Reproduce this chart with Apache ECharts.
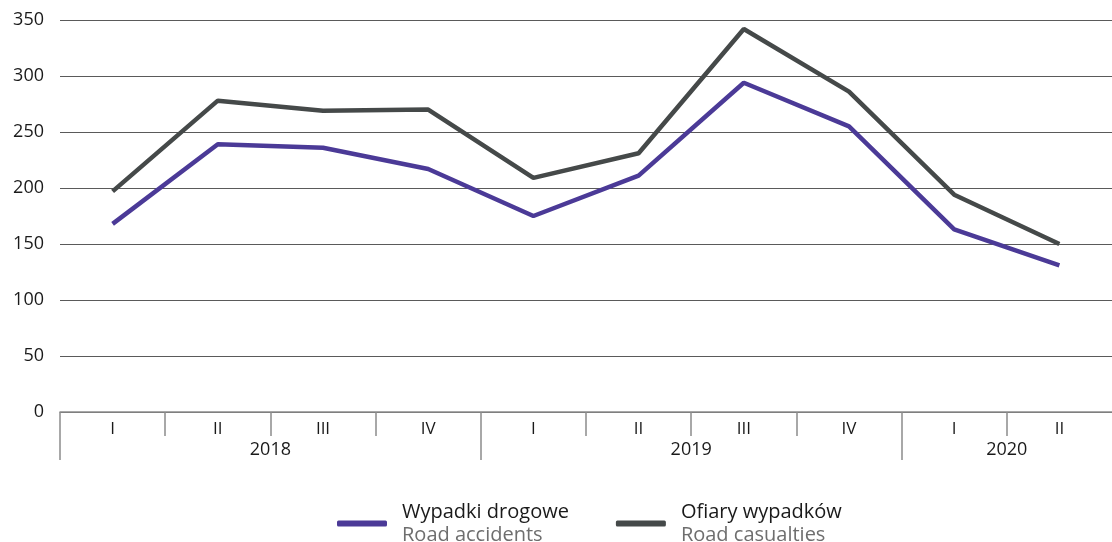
<!DOCTYPE html>
<html>
<head>
<meta charset="utf-8">
<script src="https://cdn.jsdelivr.net/npm/echarts@6/dist/echarts.min.js"></script>
<style>
  html, body { margin: 0; padding: 0; background: #fff; }
  #chart { width: 1112px; height: 542px; }
</style>
</head>
<body>
<div id="chart"></div>
<script>
const quarters = ['I', 'II', 'III', 'IV', 'I', 'II', 'III', 'IV', 'I', 'II']
const years = ['2018', '2019', '2020']
const yearStarts = [0, 4, 8]
const yearCenters = [2, 6, 9]
const quarterStarts = [0, 1, 2, 3, 4, 5, 6, 7, 8, 9]

const namesPl = ['Wypadki drogowe', 'Ofiary wypadków']
const namesEn = ['Road accidents', 'Road casualties']

const accidents = [168, 239, 236, 217, 175, 211, 294, 255, 163, 131]
const casualties = [197, 278, 269, 270, 209, 231, 342, 286, 194, 150]

const colors = ['#4b3a97', '#454949']
const font = 'Open Sans'
const axisGray = '#8c8c8c'

const chart = echarts.init(document.getElementById('chart'))

// helper axis 0..10 for the divider ticks (no tick at the far right end)
const tickAxis = (values, len) => ({
  type: 'value',
  min: 0,
  max: 10,
  position: 'bottom',
  axisLine: {show: false},
  splitLine: {show: false},
  axisTick: {show: true, customValues: values, length: len, lineStyle: {color: axisGray, width: 1.5}},
  axisLabel: {show: false}
})

const yearAxis = tickAxis(yearStarts, 48)
yearAxis.axisLabel = {
  show: true,
  customValues: yearCenters,
  margin: 29,
  fontSize: 18,
  color: '#1a1a1a',
  fontFamily: font,
  formatter: v => years[yearCenters.indexOf(v)]
}

const option = {
  animation: false,
  textStyle: {fontFamily: font},
  grid: {left: 60, right: 0, top: 20, bottom: 130},
  legend: {
    top: 497,
    left: 332,
    icon: 'roundRect',
    itemWidth: 50,
    itemHeight: 6,
    itemGap: 47,
    data: namesPl,
    formatter: name => {
      const i = namesPl.indexOf(name)
      return '{a|' + name + '}\n{b|' + namesEn[i] + '}'
    },
    textStyle: {
      padding: [0, 0, 0, 10],
      rich: {
        a: {fontFamily: font, fontSize: 20, color: '#1a1a1a', lineHeight: 23},
        b: {fontFamily: font, fontSize: 20, color: '#6e6e6e', lineHeight: 23}
      }
    }
  },
  xAxis: [
    {
      type: 'category',
      data: quarters,
      position: 'bottom',
      axisLine: {show: true, lineStyle: {color: axisGray, width: 1.5}},
      axisTick: {show: false},
      axisLabel: {interval: 0, margin: 9, fontSize: 17, color: '#1a1a1a', fontFamily: font},
      splitLine: {show: false}
    },
    yearAxis,
    tickAxis(quarterStarts, 24)
  ],
  yAxis: {
    type: 'value',
    min: 0,
    max: 350,
    interval: 50,
    axisLine: {show: false},
    axisTick: {show: false},
    axisLabel: {margin: 16, fontSize: 18, color: '#1a1a1a', fontFamily: font},
    splitLine: {lineStyle: {color: '#5a5a5a', width: 1.2}}
  },
  series: [
    {
      name: namesPl[0],
      type: 'line',
      data: accidents,
      xAxisIndex: 0,
      symbol: 'none',
      color: colors[0],
      lineStyle: {width: 4.5, color: colors[0]},
      z: 3
    },
    {
      name: namesPl[1],
      type: 'line',
      data: casualties,
      xAxisIndex: 0,
      symbol: 'none',
      color: colors[1],
      lineStyle: {width: 4.5, color: colors[1]},
      z: 2
    }
  ]
}

chart.setOption(option)
</script>
</body>
</html>
